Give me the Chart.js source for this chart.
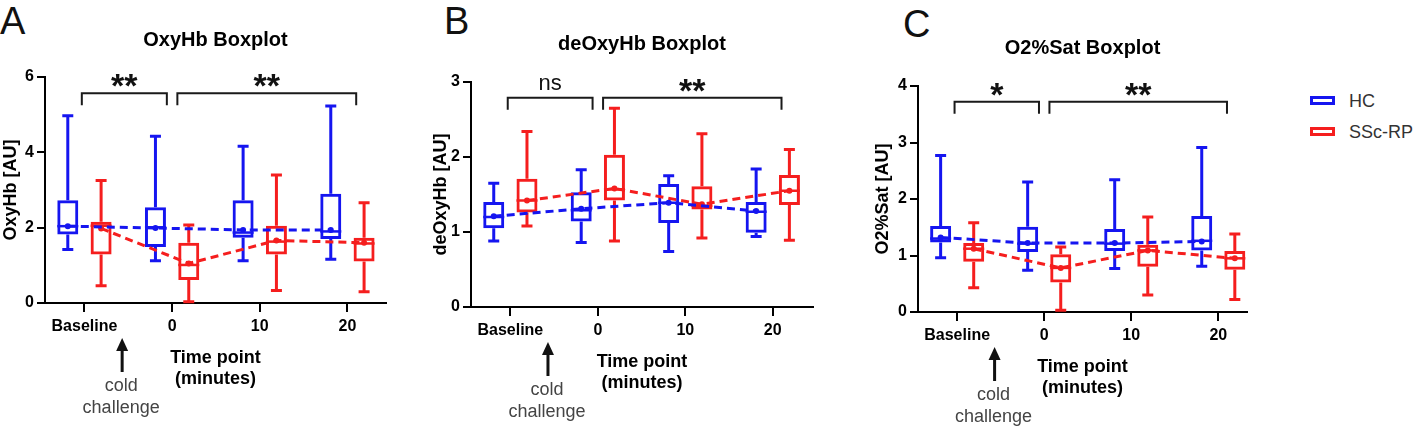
<!DOCTYPE html>
<html>
<head>
<meta charset="utf-8">
<script src="https://cdn.jsdelivr.net/npm/chart.js@4.4.1/dist/chart.umd.min.js"></script>
<style>
  body { margin: 0; background: #fff; width: 1416px; height: 427px; overflow: hidden; position: relative;
         font-family: "Liberation Sans", Arial, sans-serif; }
  canvas { position: absolute; top: 0; }
  .letter { position: absolute; font-size: 38px; line-height: 38px; color: #111; }
  .leg { position: absolute; left: 1310px; height: 20px; line-height: 20px; font-size: 18px; color: #333; white-space: nowrap; }
  .leg span { display: inline-block; width: 19px; height: 3px; border: 3px solid; vertical-align: middle; margin: -3px 14px 0 0; }
</style>
</head>
<body>
<div class="letter" style="left:0px;top:2px">A</div>
<div class="letter" style="left:444px;top:2px">B</div>
<div class="letter" style="left:903px;top:5px">C</div>
<div id="legend"></div>
<canvas id="cA" width="400" height="427" style="left:0px"></canvas>
<canvas id="cB" width="400" height="427" style="left:430px"></canvas>
<canvas id="cC" width="400" height="427" style="left:872px"></canvas>
<script>
// x categories and series
const timeLabels = ['Baseline', '0', '10', '20'];
const seriesNames = ['HC', 'SSc-RP'];
const seriesColors = ['#1515f0', '#f51e1e'];

// boxes: [min, q1, median, q3, max] for each time point
const oxyHC  = [[1.42, 1.82, 2.04, 2.73, 4.97], [1.12, 1.49, 2.01, 2.54, 4.43], [1.12, 1.73, 1.87, 2.73, 4.16], [1.16, 1.70, 1.90, 2.90, 5.23]];
const oxySSc = [[0.46, 1.29, 2.05, 2.16, 3.25], [0.03, 0.61, 1.01, 1.60, 2.07], [0.33, 1.29, 1.63, 2.05, 3.40], [0.30, 1.10, 1.58, 1.73, 2.66]];
const oxyHCMean  = [2.04, 1.99, 1.94, 1.94];
const oxySScMean = [1.98, 1.05, 1.66, 1.60];

const deoxyHC  = [[0.88, 1.05, 1.20, 1.40, 1.65], [0.86, 1.14, 1.29, 1.53, 1.83], [0.74, 1.12, 1.39, 1.64, 1.75], [0.94, 0.99, 1.27, 1.40, 1.84]];
const deoxySSc = [[1.08, 1.26, 1.42, 1.71, 2.34], [0.88, 1.42, 1.57, 2.03, 2.65], [0.92, 1.30, 1.35, 1.61, 2.31], [0.89, 1.36, 1.55, 1.76, 2.10]];
const deoxyHCMean  = [1.21, 1.31, 1.39, 1.28];
const deoxySScMean = [1.42, 1.58, 1.37, 1.55];

const satHC  = [[0.96, 1.23, 1.30, 1.52, 2.77], [0.74, 1.06, 1.21, 1.51, 2.30], [0.77, 1.08, 1.21, 1.47, 2.34], [0.81, 1.09, 1.26, 1.70, 2.91]];
const satSSc = [[0.43, 0.89, 1.12, 1.22, 1.58], [0.03, 0.52, 0.78, 1.02, 1.15], [0.30, 0.80, 1.09, 1.19, 1.68], [0.22, 0.75, 0.95, 1.08, 1.38]];
const satHCMean  = [1.32, 1.22, 1.22, 1.25];
const satSScMean = [1.12, 0.78, 1.09, 0.95];

// significance brackets (baseline -> 0, 0 -> 20)
const sigFrom = [-0.03, 1.06];
const sigTo   = [0.94, 3.10];
const oxySig   = ['**', '**'];
const deoxySig = ['ns', '**'];
const satSig   = ['*', '**'];

Chart.defaults.font.family = '"Liberation Sans", Arial, sans-serif';
Chart.defaults.color = '#000';

const offsets = [-0.19, 0.19];   // HC left of the tick, SSc-RP right
const coldX = 0.43;              // where the cold challenge arrow sits

const panels = [
  { id: 'cA', title: 'OxyHb Boxplot', yTitle: 'OxyHb [AU]', yMax: 6, yStep: 2, xMax: 3.44,
    boxes: [oxyHC, oxySSc], means: [oxyHCMean, oxySScMean], sig: oxySig, sigY: 5.57,
    pad: { top: 0, right: 14, bottom: 37, left: 0 }, titlePad: { top: 28, bottom: 25 }, yWidth: 45 },
  { id: 'cB', title: 'deOxyHb Boxplot', yTitle: 'deOxyHb [AU]', yMax: 3, yStep: 1, xMax: 3.46,
    boxes: [deoxyHC, deoxySSc], means: [deoxyHCMean, deoxySScMean], sig: deoxySig, sigY: 2.79,
    pad: { top: 0, right: 17, bottom: 33, left: 0 }, titlePad: { top: 32, bottom: 26 }, yWidth: 41 },
  { id: 'cC', title: 'O2%Sat Boxplot', yTitle: 'O2%Sat [AU]', yMax: 4, yStep: 1, xMax: 3.33,
    boxes: [satHC, satSSc], means: [satHCMean, satSScMean], sig: satSig, sigY: 3.72,
    pad: { top: 0, right: 25, bottom: 28, left: 0 }, titlePad: { top: 36, bottom: 26 }, yWidth: 46 }
];

// whiskers, caps and medians, placed on the bar elements Chart.js laid out
const boxPlugin = {
  id: 'boxWhiskers',
  beforeDatasetsDraw(chart) {
    const { ctx, scales: { y } } = chart;
    chart.data.datasets.forEach((ds, di) => {
      if (!ds.boxes) return;
      chart.getDatasetMeta(di).data.forEach((bar, i) => {
        const [mn, q1, md, q3, mx] = ds.boxes[i];
        const half = bar.width / 2;
        ctx.save();
        ctx.strokeStyle = ds.borderColor;
        ctx.lineWidth = 3;
        ctx.beginPath();
        ctx.moveTo(bar.x, y.getPixelForValue(q3)); ctx.lineTo(bar.x, y.getPixelForValue(mx));
        ctx.moveTo(bar.x, y.getPixelForValue(q1)); ctx.lineTo(bar.x, y.getPixelForValue(mn));
        ctx.moveTo(bar.x - 5.5, y.getPixelForValue(mx)); ctx.lineTo(bar.x + 5.5, y.getPixelForValue(mx));
        ctx.moveTo(bar.x - 5.5, y.getPixelForValue(mn)); ctx.lineTo(bar.x + 5.5, y.getPixelForValue(mn));
        ctx.stroke();
        ctx.lineWidth = 2.5;
        ctx.beginPath();
        ctx.moveTo(bar.x - half, y.getPixelForValue(md)); ctx.lineTo(bar.x + half, y.getPixelForValue(md));
        ctx.stroke();
        ctx.restore();
      });
    });
  }
};

// brackets with stars, and the cold challenge arrow under the axis
function makeNotes(p) {
  return {
    id: 'notes',
    afterDraw(chart) {
      const { ctx, scales: { x, y }, chartArea } = chart;
      ctx.save();
      ctx.strokeStyle = '#1a1a1a';
      ctx.fillStyle = '#111';
      ctx.lineWidth = 2;
      ctx.textAlign = 'center';
      ctx.textBaseline = 'alphabetic';
      p.sig.forEach((lab, k) => {
        const x1 = x.getPixelForValue(sigFrom[k]);
        const x2 = x.getPixelForValue(sigTo[k]);
        const yt = y.getPixelForValue(p.sigY);
        ctx.beginPath();
        ctx.moveTo(x1, yt + 12); ctx.lineTo(x1, yt); ctx.lineTo(x2, yt); ctx.lineTo(x2, yt + 12);
        ctx.stroke();
        ctx.font = lab === 'ns' ? '22px "Liberation Sans"' : 'bold 34px "Liberation Sans"';
        ctx.fillText(lab, (x1 + x2) / 2, lab === 'ns' ? yt - 8 : yt + 4);
      });

      const ax = x.getPixelForValue(coldX);
      const b = chartArea.bottom;
      ctx.fillRect(ax - 1.5, b + 45, 3, 24);
      ctx.beginPath();
      ctx.moveTo(ax, b + 35); ctx.lineTo(ax - 6, b + 48); ctx.lineTo(ax + 6, b + 48);
      ctx.closePath();
      ctx.fill();
      ctx.fillStyle = '#444';
      ctx.font = '18px "Liberation Sans"';
      ctx.textBaseline = 'middle';
      ctx.fillText('cold', ax - 1, b + 83);
      ctx.fillText('challenge', ax - 1, b + 105);
      ctx.restore();
    }
  };
}

panels.forEach(p => {
  const datasets = [];
  seriesNames.forEach((name, s) => {
    datasets.push({
      type: 'line',
      label: name + ' mean',
      data: p.means[s].map((v, i) => ({ x: i + offsets[s], y: v })),
      borderColor: seriesColors[s],
      backgroundColor: seriesColors[s],
      borderWidth: 3,
      borderDash: [8, 5],
      pointRadius: 1.5,
      tension: 0,
      order: 1
    });
  });
  seriesNames.forEach((name, s) => {
    datasets.push({
      label: name,
      data: p.boxes[s].map((b, i) => ({ x: i + offsets[s], y: [b[1], b[3]] })),
      boxes: p.boxes[s],
      borderColor: seriesColors[s],
      backgroundColor: 'rgba(255,255,255,0)',
      borderWidth: 3,
      borderSkipped: false,
      grouped: false,
      maxBarThickness: 21,
      order: 2
    });
  });

  new Chart(document.getElementById(p.id), {
    type: 'bar',
    data: { datasets },
    options: {
      responsive: false,
      animation: false,
      events: [],
      layout: { padding: p.pad },
      plugins: {
        legend: { display: false },
        tooltip: { enabled: false },
        title: { display: true, text: p.title, fullSize: false, color: '#000',
                 font: { size: 20, weight: 'bold' }, padding: p.titlePad }
      },
      scales: {
        x: {
          type: 'linear', min: -0.45, max: p.xMax, offset: false,
          afterBuildTicks: s => { s.ticks = timeLabels.map((_, i) => ({ value: i })); },
          afterFit: s => { s.height = 87; },
          ticks: { callback: v => timeLabels[v], font: { size: 16, weight: 'bold' }, color: '#000',
                   padding: 5, maxRotation: 0, autoSkip: false },
          grid: { drawOnChartArea: false, offset: false, tickLength: 9, lineWidth: 2, color: '#000' },
          border: { color: '#000', width: 2 },
          title: { display: true, text: ['Time point', '(minutes)'], color: '#000',
                   font: { size: 18, weight: 'bold' }, padding: { top: 0, bottom: 0 } }
        },
        y: {
          min: 0, max: p.yMax,
          afterFit: s => { s.width = p.yWidth; },
          ticks: { stepSize: p.yStep, font: { size: 16, weight: 'bold' }, color: '#000', padding: 3 },
          grid: { drawOnChartArea: false, tickLength: 8, lineWidth: 2, color: '#000' },
          border: { color: '#000', width: 2 },
          title: { display: true, text: p.yTitle, color: '#000', font: { size: 18, weight: 'bold' }, padding: 0 }
        }
      }
    },
    plugins: [boxPlugin, makeNotes(p)]
  });
});

// legend on the right
const legend = document.getElementById('legend');
seriesNames.forEach((name, s) => {
  const row = document.createElement('div');
  row.className = 'leg';
  row.style.top = (91 + s * 31) + 'px';
  row.innerHTML = '<span style="border-color:' + seriesColors[s] + '"></span>' + name;
  legend.appendChild(row);
});
</script>
</body>
</html>
